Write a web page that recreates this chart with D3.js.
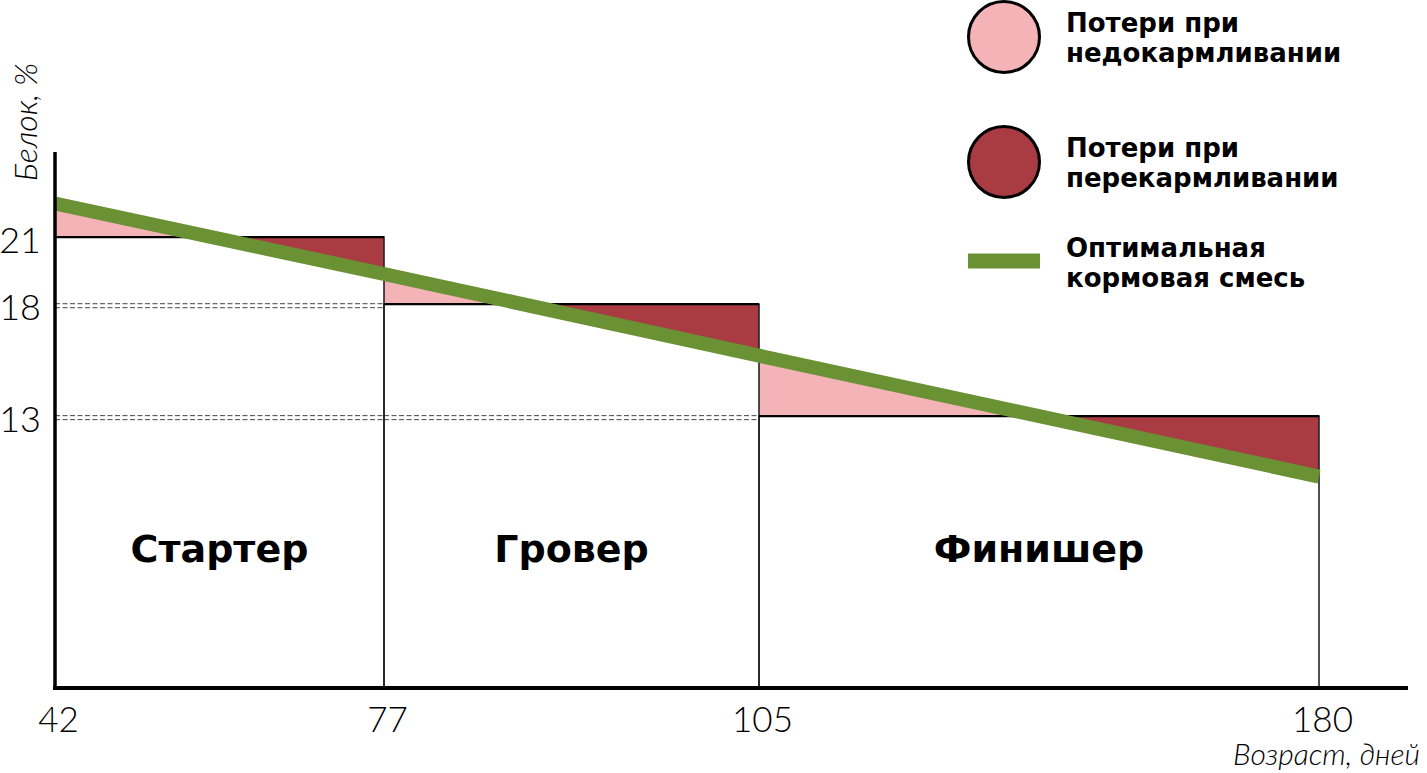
<!DOCTYPE html>
<html>
<head>
<meta charset="utf-8">
<script src="https://cdnjs.cloudflare.com/ajax/libs/d3/7.8.5/d3.min.js"></script>
<style>
  body { margin: 0; background: #fff; }
  text { fill: #000; }
</style>
</head>
<body>
<div id="chart"></div>
<script>
// data
var ages = [42, 77, 105, 180];                 // границы фаз, дней
var stages = ["Стартер", "Гровер", "Финишер"];
var protein = [21, 18, 13];                     // белок в комбикорме, %
var optimal = [22.5, 19.35, 15.7, 10.3];        // оптимальная потребность в точках ages
var yTicks = [13, 18, 21];
var legendLabels = [
  ["Потери при", "недокармливании"],
  ["Потери при", "перекармливании"],
  ["Оптимальная", "кормовая смесь"]
];

var width = 1427, height = 773;
var pink = "#f4b3b7", red = "#a83c42", green = "#6a9134";

var svg = d3.select("#chart").append("svg")
    .attr("width", width)
    .attr("height", height);

/* scales: the age axis is not proportional, each phase has its own stretch */
var x = d3.scaleLinear().domain(ages).range([55, 384, 759, 1319]);
var y = d3.scaleLinear().domain([0.9, 24.8]).range([687, 152]);

var phases = stages.map(function(s, i) {
  return {name: s, a0: ages[i], a1: ages[i + 1], level: protein[i], l0: optimal[i], l1: optimal[i + 1]};
});

// white bars
svg.selectAll(".bar").data(phases).enter()
  .append("rect")
  .attr("class", "bar")
  .attr("x", function(d) { return x(d.a0); })
  .attr("y", function(d) { return y(d.level); })
  .attr("width", function(d) { return x(d.a1) - x(d.a0); })
  .attr("height", function(d) { return y.range()[0] - y(d.level); })
  .attr("fill", "#fff");

// dashed guides: lower levels carried back under earlier phases
phases.forEach(function(p, j) {
  for (var k = 0; k < j; k++) {
    [-0.5, 3.5].forEach(function(off) {
      svg.append("line")
        .attr("x1", x(ages[k])).attr("x2", x(ages[k + 1]))
        .attr("y1", y(p.level) + off).attr("y2", y(p.level) + off)
        .attr("stroke", "#444")
        .attr("stroke-width", 1)
        .attr("stroke-dasharray", "5,2.5");
    });
  }
});

// loss areas between the optimum line and the phase level
phases.forEach(function(p) {
  var pts = [{a: p.a0, v: p.l0}];
  if ((p.l0 - p.level) * (p.l1 - p.level) < 0) {
    var t = (p.level - p.l0) / (p.l1 - p.l0);
    pts.push({a: p.a0 + t * (p.a1 - p.a0), v: p.level});
  }
  pts.push({a: p.a1, v: p.l1});

  var under = d3.area()
    .x(function(d) { return x(d.a); })
    .y0(y(p.level))
    .y1(function(d) { return y(Math.max(d.v, p.level)); });
  var over = d3.area()
    .x(function(d) { return x(d.a); })
    .y0(y(p.level))
    .y1(function(d) { return y(Math.min(d.v, p.level)); });

  svg.append("path").datum(pts).attr("d", under).attr("fill", pink);
  svg.append("path").datum(pts).attr("d", over).attr("fill", red);
});

// bar outlines
svg.selectAll(".outline").data(phases).enter()
  .append("rect")
  .attr("class", "outline")
  .attr("x", function(d) { return x(d.a0); })
  .attr("y", function(d) { return y(d.level); })
  .attr("width", function(d) { return x(d.a1) - x(d.a0); })
  .attr("height", function(d) { return y.range()[0] - y(d.level); })
  .attr("fill", "none")
  .attr("stroke", "#222")
  .attr("stroke-width", 1.6);

svg.selectAll(".bartop").data(phases).enter()
  .append("line")
  .attr("x1", function(d) { return x(d.a0); })
  .attr("x2", function(d) { return x(d.a1); })
  .attr("y1", function(d) { return y(d.level); })
  .attr("y2", function(d) { return y(d.level); })
  .attr("stroke", "#000")
  .attr("stroke-width", 2.2);

// phase names
svg.selectAll(".stage").data(phases).enter()
  .append("text")
  .attr("x", function(d) { return (x(d.a0) + x(d.a1)) / 2; })
  .attr("y", 562)
  .attr("text-anchor", "middle")
  .style("font-family", "'DejaVu Sans', sans-serif")
  .style("font-weight", "bold")
  .style("font-size", "38px")
  .text(function(d) { return d.name; });

// optimum line
var line = d3.line()
  .x(function(d, i) { return x(ages[i]); })
  .y(function(d) { return y(d); });
svg.append("path")
  .datum(optimal)
  .attr("d", line)
  .attr("fill", "none")
  .attr("stroke", green)
  .attr("stroke-width", 14);

// axes
var xAxis = svg.append("g")
  .attr("transform", "translate(0," + (y.range()[0] + 1) + ")")
  .call(d3.axisBottom(x).tickValues(ages).tickSize(0).tickFormat(d3.format("d")));
xAxis.select(".domain").remove();
xAxis.selectAll("text")
  .attr("y", 44).attr("dy", 0).attr("dx", 3)
  .style("font-family", "Lato, sans-serif")
  .style("font-weight", 300)
  .style("font-size", "35px");
xAxis.append("line")
  .attr("x1", x.range()[0] - 2).attr("x2", 1408)
  .attr("stroke", "#000").attr("stroke-width", 4);

var yAxis = svg.append("g")
  .attr("transform", "translate(" + x.range()[0] + ",0)")
  .call(d3.axisLeft(y).tickValues(yTicks).tickSize(0));
yAxis.select(".domain").remove();
yAxis.selectAll("text")
  .attr("x", -35).attr("dy", "0.42em")
  .attr("text-anchor", "middle")
  .style("font-family", "Lato, sans-serif")
  .style("font-weight", 300)
  .style("font-size", "36px");
yAxis.append("line")
  .attr("y1", y.range()[1]).attr("y2", y.range()[0] + 3)
  .attr("stroke", "#000").attr("stroke-width", 3.5);

// axis titles
svg.append("text")
  .attr("x", 1420).attr("y", 765)
  .attr("text-anchor", "end")
  .style("font-family", "Lato, sans-serif")
  .style("font-weight", 300)
  .style("font-style", "italic")
  .style("font-size", "30px")
  .text("Возраст, дней");

svg.append("text")
  .attr("transform", "translate(37,122) rotate(-90)")
  .attr("text-anchor", "middle")
  .style("font-family", "Lato, sans-serif")
  .style("font-weight", 300)
  .style("font-style", "italic")
  .style("font-size", "32px")
  .text("Белок, %");

// legend
var legend = svg.append("g").attr("class", "legend");
var rows = legend.selectAll(".row").data(legendLabels).enter()
  .append("g")
  .attr("class", "row")
  .attr("transform", function(d, i) { return "translate(1004," + [37, 162, 261][i] + ")"; });

rows.filter(function(d, i) { return i < 2; })
  .append("circle")
  .attr("r", 35.5)
  .attr("fill", function(d, i) { return i === 0 ? pink : red; })
  .attr("stroke", "#000")
  .attr("stroke-width", 3);

rows.filter(function(d, i) { return i === 2; })
  .append("rect")
  .attr("x", -36).attr("y", -7.5)
  .attr("width", 72).attr("height", 15)
  .attr("fill", green);

rows.append("text")
  .attr("x", 62)
  .attr("y", function(d, i) { return i === 2 ? -4 : -5; })
  .style("font-family", "'DejaVu Sans', sans-serif")
  .style("font-weight", "bold")
  .style("font-size", "26px")
  .selectAll("tspan")
  .data(function(d) { return d; })
  .enter().append("tspan")
  .attr("x", 62)
  .attr("dy", function(d, i) { return i === 0 ? 0 : 30; })
  .text(function(d) { return d; });
</script>
</body>
</html>
